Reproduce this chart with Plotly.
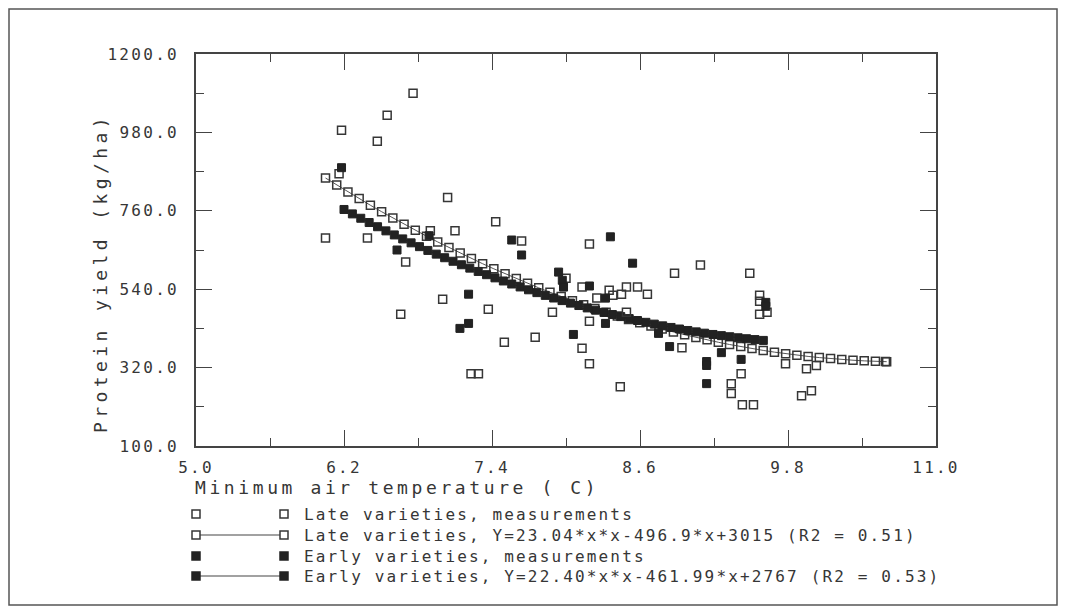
import plotly.graph_objects as go

# ---------------- data ----------------
late_x = [6.76, 6.55, 6.18, 6.47, 6.16, 7.04, 7.10, 6.05, 6.39, 6.70, 6.90, 7.00, 6.66, 7.23, 7.29,
          7.43, 7.64, 8.19, 8.00, 8.13, 8.35, 8.49, 8.58, 8.25, 8.38, 8.45, 7.37, 7.89, 8.19, 7.75,
          7.50, 8.13, 8.19, 8.44, 8.88, 9.09, 9.49, 8.66, 9.57, 9.57, 9.57, 9.63, 8.94, 9.42, 9.34,
          9.34, 9.43, 9.52, 9.78, 9.95, 10.03, 9.91, 9.99, 8.49, 10.59]
late_y = [1090, 1028, 986, 955, 864, 797, 704, 684, 684, 616, 704, 512, 470, 303, 303,
          729, 675, 667, 571, 546, 537, 546, 546, 515, 523, 526, 484, 475, 450, 405,
          391, 374, 331, 266, 585, 608, 585, 526, 523, 506, 470, 475, 376, 303, 275,
          247, 216, 216, 331, 317, 326, 241, 255, 475, 337]

early_x = [6.18, 6.63, 6.89, 7.21, 7.14, 7.21, 7.56, 7.64, 8.36, 8.54, 7.94, 7.97, 7.98, 8.19,
           8.32, 8.32, 8.06, 8.75, 8.84, 9.26, 9.14, 9.14, 9.42, 9.14, 9.62, 9.62]
early_y = [881, 650, 690, 526, 430, 444, 678, 636, 687, 613, 588, 565, 546, 549,
           515, 444, 413, 416, 379, 362, 337, 326, 343, 275, 503, 492]

late_fit_x = [6.05, 6.141, 6.232, 6.323, 6.414, 6.505, 6.596, 6.687, 6.778, 6.869, 6.96, 7.051,
              7.142, 7.233, 7.324, 7.415, 7.506, 7.597, 7.688, 7.779, 7.87, 7.961, 8.052, 8.143,
              8.234, 8.325, 8.416, 8.507, 8.598, 8.689, 8.78, 8.871, 8.962, 9.053, 9.144, 9.235,
              9.326, 9.417, 9.508, 9.599, 9.69, 9.781, 9.872, 9.963, 10.054, 10.145, 10.236,
              10.327, 10.418, 10.509, 10.6]
late_fit_y = [852.0, 832.3, 813.1, 794.2, 775.6, 757.5, 739.8, 722.4, 705.4, 688.8, 672.6, 656.8,
              641.3, 626.2, 611.5, 597.2, 583.3, 569.7, 556.6, 543.8, 531.4, 519.3, 507.7, 496.4,
              485.6, 475.1, 464.9, 455.2, 445.9, 436.9, 428.3, 420.1, 412.3, 404.8, 397.8, 391.1,
              384.8, 378.9, 373.3, 368.2, 363.4, 359.0, 355.0, 351.4, 348.1, 345.2, 342.8, 340.7,
              338.9, 337.6, 336.6]

early_fit_x = [6.2, 6.268, 6.336, 6.404, 6.472, 6.54, 6.608, 6.676, 6.744, 6.812, 6.88, 6.948,
               7.016, 7.084, 7.152, 7.22, 7.288, 7.356, 7.424, 7.492, 7.56, 7.628, 7.696, 7.764,
               7.832, 7.9, 7.968, 8.036, 8.104, 8.172, 8.24, 8.308, 8.376, 8.444, 8.512, 8.58,
               8.648, 8.716, 8.784, 8.852, 8.92, 8.988, 9.056, 9.124, 9.192, 9.26, 9.328, 9.396,
               9.464, 9.532, 9.6]
early_fit_y = [763.7, 751.3, 739.1, 727.1, 715.3, 703.7, 692.3, 681.1, 670.1, 659.4, 648.8, 638.4,
               628.3, 618.4, 608.6, 599.1, 589.8, 580.7, 571.8, 563.1, 554.6, 546.3, 538.3, 530.4,
               522.7, 515.3, 508.0, 501.0, 494.2, 487.5, 481.1, 474.9, 468.9, 463.1, 457.5, 452.1,
               447.0, 442.0, 437.2, 432.7, 428.3, 424.2, 420.3, 416.6, 413.0, 409.7, 406.6, 403.7,
               401.0, 398.6, 396.3]

x_ticks = [5.0, 6.2, 7.4, 8.6, 9.8, 11.0]
x_tick_labels = ["5.0", "6.2", "7.4", "8.6", "9.8", "11.0"]
y_ticks = [100, 320, 540, 760, 980, 1200]
y_tick_labels = ["100.0", "320.0", "540.0", "760.0", "980.0", "1200.0"]
x_minor = [5.6, 6.8, 8.0, 9.2, 10.4]
y_minor = [210, 430, 650, 870, 1090]

legend_labels = [
    "Late varieties, measurements",
    "Late varieties, Y=23.04*x*x-496.9*x+3015 (R2 = 0.51)",
    "Early varieties, measurements",
    "Early varieties, Y=22.40*x*x-461.99*x+2767 (R2 = 0.53)",
]
x_title = "Minimum air temperature ( C)"
y_title = "Protein yield (kg/ha)"

# ---------------- style ----------------
# page body adds an 8px margin; figure-pixel positions below already account for it
W, H = 1050, 598
L, R, T, B = 188, 928, 46, 438
INK = "#363636"
FONT = "DejaVu Sans Mono"


def sp(text, ls):
    return '<span style="letter-spacing:%spx">%s</span>' % (ls, text)


def px(xp):
    return (xp - L) / (R - L)


def py(yp):
    return (B - yp) / (B - T)


open_marker = dict(symbol="square-open", size=8, color=INK, line=dict(width=1.5, color=INK))
solid_marker = dict(symbol="square", size=8, color="#222222", line=dict(width=1, color="#222222"))

fig = go.Figure()
fig.add_trace(go.Scatter(x=late_fit_x, y=late_fit_y, mode="lines+markers",
                         line=dict(color="#555555", width=1), marker=open_marker, showlegend=False))
fig.add_trace(go.Scatter(x=early_fit_x, y=early_fit_y, mode="lines+markers",
                         line=dict(color="#333333", width=1), marker=solid_marker, showlegend=False))
fig.add_trace(go.Scatter(x=late_x, y=late_y, mode="markers", marker=open_marker, showlegend=False))
fig.add_trace(go.Scatter(x=early_x, y=early_y, mode="markers", marker=solid_marker, showlegend=False))

axis_common = dict(showline=True, linecolor="#444444", linewidth=1.5, mirror="ticks",
                   ticks="inside", ticklen=16, tickwidth=1.3, tickcolor="#444444",
                   showgrid=False, zeroline=False,
                   tickfont=dict(family=FONT, size=16, color=INK))

fig.update_xaxes(range=[5, 11], tickmode="array", tickvals=x_ticks,
                 ticktext=[sp(t, 2.2) for t in x_tick_labels],
                 minor=dict(tickvals=x_minor, ticks="inside", ticklen=8, tickwidth=1.3,
                            tickcolor="#444444", showgrid=False),
                 ticklabelstandoff=6, **axis_common)
fig.update_yaxes(range=[100, 1200], tickmode="array", tickvals=y_ticks,
                 ticktext=[sp(t, 2.3) for t in y_tick_labels],
                 minor=dict(tickvals=y_minor, ticks="inside", ticklen=8, tickwidth=1.3,
                            tickcolor="#444444", showgrid=False),
                 ticklabelstandoff=12, **axis_common)

shapes = []
annotations = []
# outer frame round the whole figure
shapes.append(dict(type="rect", xref="paper", yref="paper", x0=px(1), x1=px(W - 1),
                   y0=py(H - 1), y1=py(1), line=dict(color="#555555", width=1.5)))

# axis titles
annotations.append(dict(text=sp(x_title, 3.6), xref="paper", yref="paper", x=px(185), y=py(479),
                        xanchor="left", yanchor="middle", showarrow=False,
                        font=dict(family=FONT, size=18, color=INK)))
annotations.append(dict(text=sp(y_title, 4.4), xref="paper", yref="paper", x=px(92), y=py(265),
                        xanchor="center", yanchor="middle", textangle=-90, showarrow=False,
                        font=dict(family=FONT, size=18, color=INK)))

# legend
rows = [506, 527, 548, 568]
sym_l, sym_r, txt_x = 188, 276, 294
half = 4
for i, (lab, yrow) in enumerate(zip(legend_labels, rows)):
    filled = i >= 2
    if i in (1, 3):
        shapes.append(dict(type="line", xref="paper", yref="paper", x0=px(sym_l), x1=px(sym_r),
                           y0=py(yrow), y1=py(yrow), line=dict(color="#444444", width=1.2)))
    for xs in (sym_l, sym_r):
        shapes.append(dict(type="rect", xref="paper", yref="paper",
                           x0=px(xs - half), x1=px(xs + half), y0=py(yrow + half), y1=py(yrow - half),
                           line=dict(color="#222222" if filled else INK, width=1.5),
                           fillcolor="#222222" if filled else "white"))
    annotations.append(dict(text=sp(lab, 2.15), xref="paper", yref="paper", x=px(txt_x), y=py(yrow),
                            xanchor="left", yanchor="middle", showarrow=False,
                            font=dict(family=FONT, size=16, color=INK)))

fig.update_layout(width=W, height=H, margin=dict(l=L, r=W - R, t=T, b=H - B),
                  paper_bgcolor="white", plot_bgcolor="white",
                  shapes=shapes, annotations=annotations, showlegend=False)

fig.write_html("out.html")
